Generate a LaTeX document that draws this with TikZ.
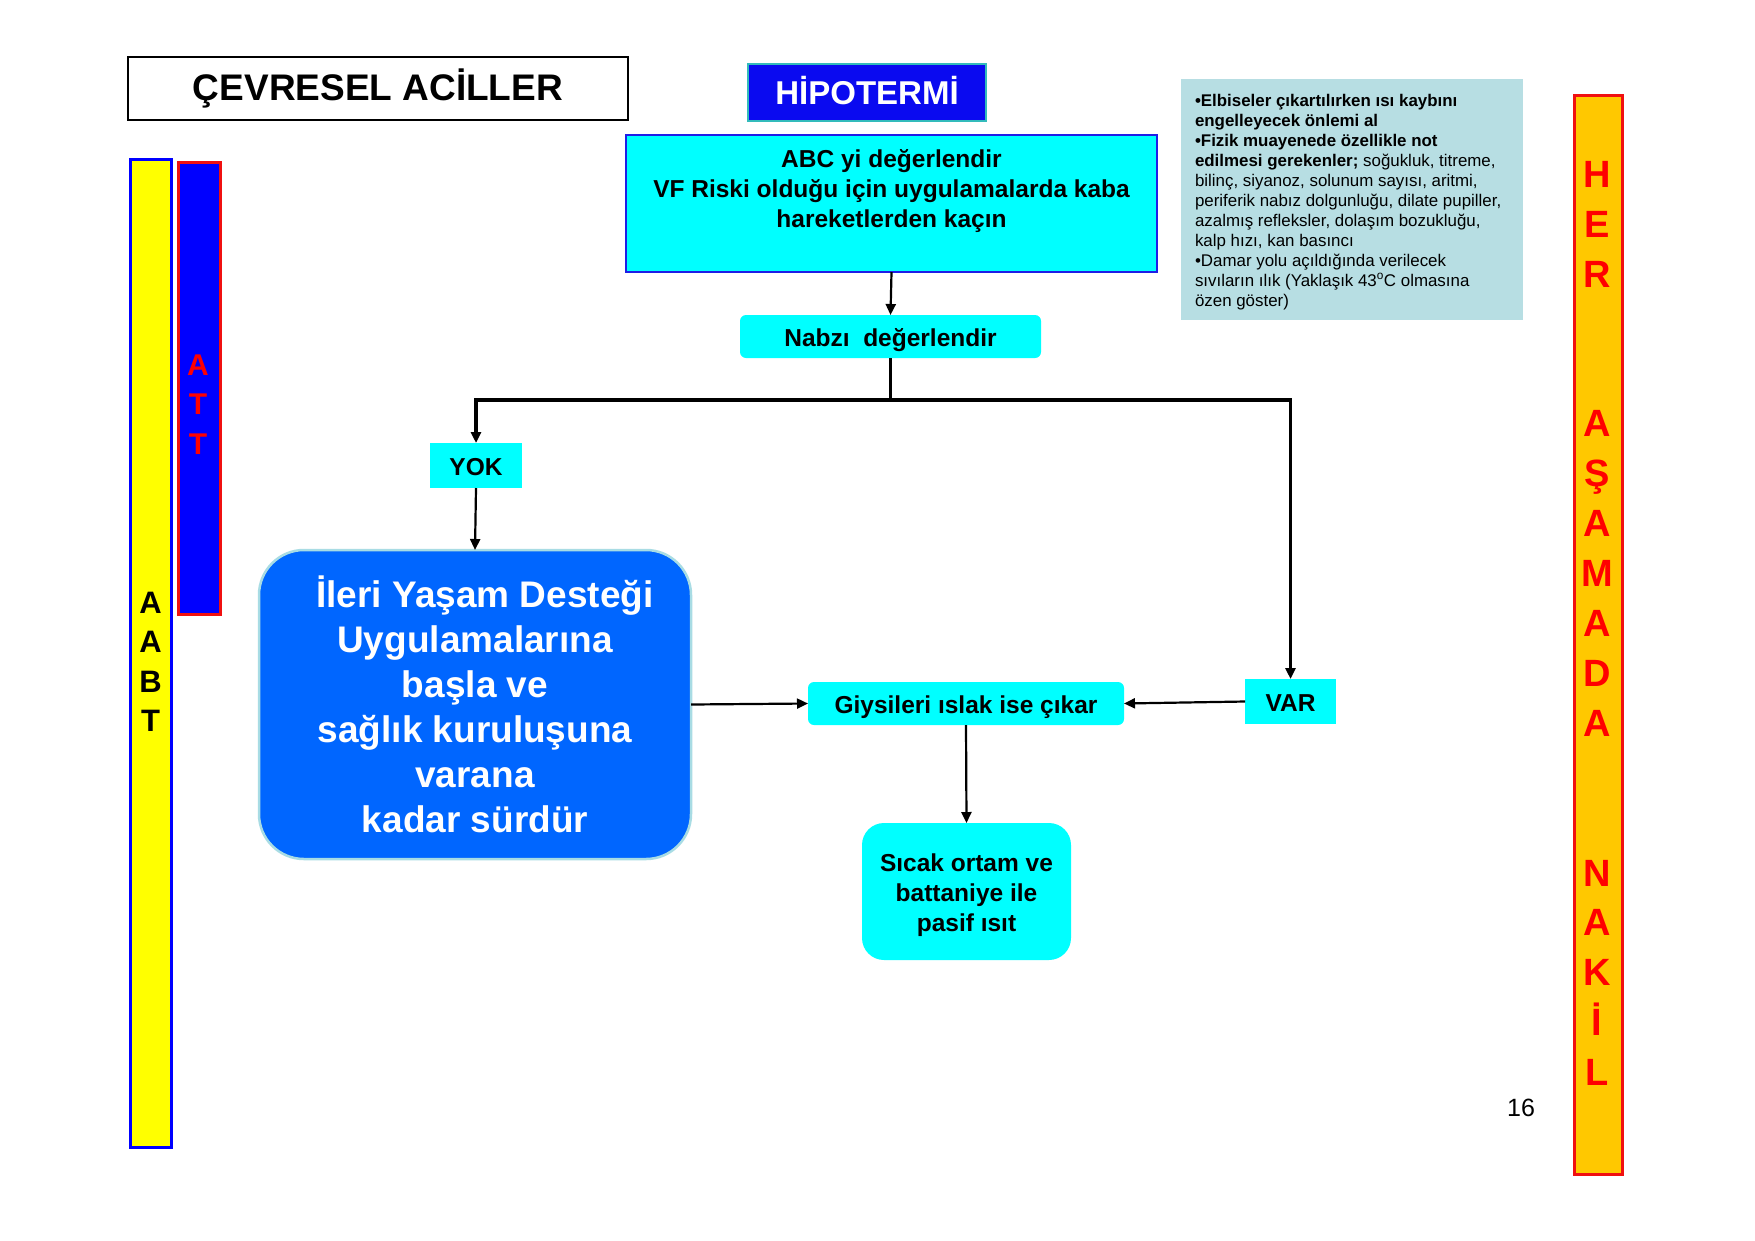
\documentclass[tikz,border=0pt]{standalone}
\usepackage{fontspec}
\setmainfont{Liberation Sans}
\usetikzlibrary{arrows.meta}
\definecolor{boxcyan}{HTML}{00FFFF}
\definecolor{abcborder}{HTML}{1E1EE6}
\definecolor{hipofill}{HTML}{0A0AF0}
\definecolor{hipoborder}{HTML}{33BBBB}
\definecolor{ilsfill}{HTML}{0066FF}
\definecolor{ilsborder}{HTML}{A8DCE4}
\definecolor{infofill}{HTML}{B7DEE3}
\definecolor{barblue}{HTML}{0000FF}
\definecolor{barred}{HTML}{F01010}
\definecolor{baryellow}{HTML}{FFFF00}
\definecolor{barorange}{HTML}{FFC800}
\definecolor{letterred}{HTML}{FF0000}
\tikzset{
  base/.style={inner sep=0pt, outer sep=0pt, align=center},
  boxfont/.style={font=\fontsize{24.5}{30}\selectfont\bfseries},
  cyanbox/.style={base, fill=boxcyan, boxfont, text height=22pt, text depth=3pt},
  conn/.style={line width=2.2pt, -{Triangle[length=11pt,width=10pt]}},
  thickline/.style={line width=3.4pt},
}
\begin{document}
\begin{tikzpicture}[x=1pt,y=-1pt]
\useasboundingbox[fill=white] (0,0) rectangle (1755,1240);

% title boxes
\node[base, draw=black, line width=2pt, minimum width=500pt, minimum height=63pt,
  font=\fontsize{37}{44}\selectfont\bfseries] (cevresel) at (378,88.5) {ÇEVRESEL ACİLLER};
\node[base, fill=hipofill, draw=hipoborder, line width=2pt, minimum width=238pt, minimum height=57pt,
  text height=28pt, text depth=4pt,
  text=white, font=\fontsize{33}{40}\selectfont\bfseries] (hipo) at (867,92.5) {HİPOTERMİ};

% side bars
\node[base, fill=baryellow, draw=barblue, line width=3pt, minimum width=41pt, minimum height=988pt] (abtbar) at (150.5,653) {};
\node[base, font=\fontsize{31}{39.5}\selectfont\bfseries] (abttext) at (150.5,662) {A\\A\\B\\T};
\node[base, fill=barblue, draw=barred, line width=3pt, minimum width=42pt, minimum height=452pt] (attbar) at (199,388) {};
\node[base, text=letterred, font=\fontsize{30}{39.3}\selectfont\bfseries] (atttext) at (198,404.5) {A\\T\\T};
\node[base, fill=barorange, draw=barred, line width=3pt, minimum width=48pt, minimum height=1079pt] (herbar) at (1598,634.5) {};
\node[base, text=letterred, font=\fontsize{38}{49.9}\selectfont\bfseries] (hertext) at (1597,623.5)
  {H\\E\\R\\\mbox{}\\\mbox{}\\A\\Ş\\A\\M\\A\\D\\A\\\mbox{}\\\mbox{}\\N\\A\\K\\İ\\L};

% info box
\node[base, fill=infofill, minimum width=342pt, minimum height=241pt] (info) at (1352,199.5) {};
\node[base, anchor=north west, align=left, font=\fontsize{16.9}{20}\selectfont] (infotext) at (1195,94)
  {\textbf{•Elbiseler çıkartılırken ısı kaybını}\\
   \textbf{engelleyecek önlemi al}\\
   \textbf{•Fizik muayenede özellikle not}\\
   \textbf{edilmesi gerekenler;} soğukluk, titreme,\\
   bilinç, siyanoz, solunum sayısı, aritmi,\\
   periferik nabız dolgunluğu, dilate pupiller,\\
   azalmış refleksler, dolaşım bozukluğu,\\
   kalp hızı, kan basıncı\\
   •Damar yolu açıldığında verilecek\\
   sıvıların ılık (Yaklaşık 43\textsuperscript{o}C olmasına\\
   özen göster)};

% flow
\node[base, fill=boxcyan, draw=abcborder, line width=2pt, minimum width=531pt, minimum height=137pt] (abc) at (891.5,203.5) {};
\node[base, boxfont] (abctext) at (891.5,191.5) {ABC yi değerlendir\\VF Riski olduğu için uygulamalarda kaba\\hareketlerden kaçın};
\node[cyanbox, rounded corners=6pt, minimum width=301pt, minimum height=43pt] (nabiz) at (890.5,336.5) {Nabzı\ \ değerlendir};
\coordinate (branch) at (890.5,400);
\node[cyanbox, minimum width=92pt, minimum height=45pt] (yok) at (476,465.5) {YOK};
\node[cyanbox, minimum width=91pt, minimum height=45pt] (var) at (1290.5,701.5) {VAR};
\node[base, fill=ilsfill, draw=ilsborder, line width=2.5pt, rounded corners=45pt,
  minimum width=432pt, minimum height=309pt, text=white, font=\fontsize{37}{45}\selectfont\bfseries] (ils) at (475,704.5)
  {\hspace*{20pt}İleri Yaşam Desteği\\Uygulamalarına\\başla ve\\sağlık kuruluşuna\\varana\\kadar sürdür};
\node[cyanbox, rounded corners=6pt, minimum width=316pt, minimum height=43pt] (giysi) at (966,703.5) {Giysileri ıslak ise çıkar};
\node[base, fill=boxcyan, rounded corners=22pt, minimum width=209pt, minimum height=137pt,
  boxfont] (sicak) at (966.5,891.5) {\rule{0pt}{25pt}Sıcak ortam ve\\battaniye ile\\pasif ısıt};

\node[base, font=\fontsize{25}{30}\selectfont] (pageno) at (1521,1108) {16};

% connectors
\draw[conn] (abc.south) -- (nabiz.north);
\draw[thickline] (nabiz.south) -- (branch);
\draw[thickline, -{Triangle[length=11pt,width=10pt]}] (branch) -| (yok.north);
\draw[thickline, -{Triangle[length=11pt,width=10pt]}] (branch) -| (var.north);
\draw[conn] (yok.south) -- (ils.north);
\draw[conn] (ils.east) -- (giysi.west);
\draw[conn] (var.west) -- (giysi.east);
\draw[conn] (giysi.south) -- (sicak.north);
\end{tikzpicture}
\end{document}
